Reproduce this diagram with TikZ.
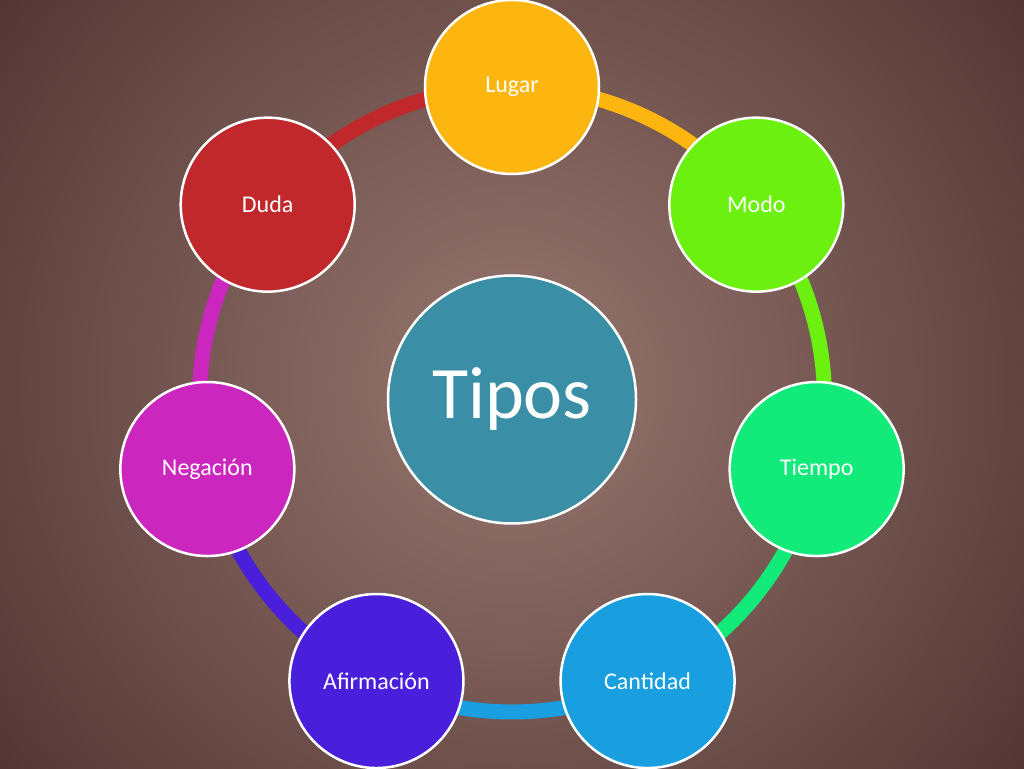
\documentclass[tikz,border=0pt]{standalone}
\usepackage{fontspec}
\setmainfont{Carlito}
\usetikzlibrary{calc}
\begin{document}
\begin{tikzpicture}[x=1pt,y=1pt,
  sat/.style={circle,draw=white,line width=2.5pt,minimum size=174pt,inner sep=0pt,text=white,font=\fontsize{24}{28}\selectfont},
  seg/.style={line width=15pt}]
\useasboundingbox (0,0) rectangle (1024,768);
\begin{scope}
\clip (0,0) rectangle (1024,768);
\shade[inner color= {rgb,255:red,152;green,120;blue,112}, outer color={rgb,255:red,58;green,30;blue,30}] (512-880,384-880) rectangle (512+880,384+880);
\end{scope}
\definecolor{c1}{HTML}{FDB50F}
\definecolor{c2}{HTML}{6CF00F}
\definecolor{c3}{HTML}{12EA7A}
\definecolor{c4}{HTML}{199FE0}
\definecolor{c5}{HTML}{4A1FDB}
\definecolor{c6}{HTML}{CB27BF}
\definecolor{c7}{HTML}{C0282C}
\coordinate (O) at (512,368.5);
\foreach \i in {1,...,7}{
  \pgfmathsetmacro\a{90-(\i-1)*360/7}
  \draw[seg,c\i] ($(O)+(\a:312.5)$) arc[start angle=\a, end angle=\a-360/7, radius=312.5];
}
\node[circle,draw=white,line width=2.5pt,minimum size=248pt,fill={rgb,255:red,58;green,143;blue,166},text=white,font=\fontsize{74}{80}\selectfont] (t) at (O) {Tipos};
\node[sat,fill=c1] (n1) at ($(O)+(90:312.5)$) {Lugar};
\node[sat,fill=c2] (n2) at ($(O)+(90-360/7:312.5)$) {Modo};
\node[sat,fill=c3] (n3) at ($(O)+(90-720/7:312.5)$) {Tiempo};
\node[sat,fill=c4] (n4) at ($(O)+(90-1080/7:312.5)$) {Cantidad};
\node[sat,fill=c5] (n5) at ($(O)+(90-1440/7:312.5)$) {Afirmación};
\node[sat,fill=c6] (n6) at ($(O)+(90-1800/7:312.5)$) {Negación};
\node[sat,fill=c7] (n7) at ($(O)+(90-2160/7:312.5)$) {Duda};
\end{tikzpicture}
\end{document}
